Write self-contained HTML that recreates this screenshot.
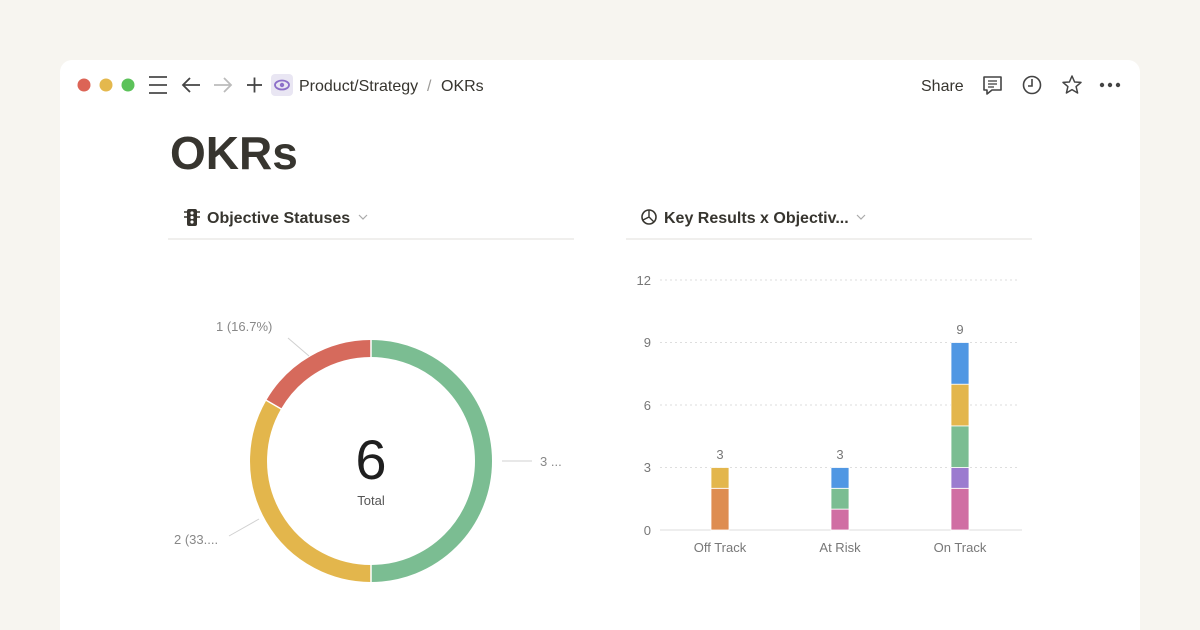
<!DOCTYPE html>
<html><head><meta charset="utf-8"><style>
html,body{margin:0;padding:0;background:#f7f5f0;}
svg{display:block;font-family:"Liberation Sans",sans-serif;}
</style></head><body>
<svg width="1200" height="630" viewBox="0 0 1200 630" xmlns="http://www.w3.org/2000/svg">
<rect x="0" y="0" width="1200" height="630" fill="#f7f5f0"/>
<rect x="60" y="60" width="1080" height="600" rx="12" fill="#ffffff"/>
<!-- traffic lights -->
<circle cx="84" cy="85" r="6.5" fill="#dc6456"/>
<circle cx="106" cy="85" r="6.5" fill="#e4b84d"/>
<circle cx="128" cy="85" r="6.5" fill="#5cc25a"/>
<!-- hamburger -->
<g stroke="#4a4a4a" stroke-width="1.8"><line x1="149" y1="77" x2="167" y2="77"/><line x1="149" y1="85" x2="167" y2="85"/><line x1="149" y1="93" x2="167" y2="93"/></g>
<!-- arrows -->
<g stroke="#444" stroke-width="1.8" fill="none"><line x1="183" y1="85" x2="200" y2="85"/><polyline points="190,78 183,85 190,92"/></g>
<g stroke="#bbb" stroke-width="1.8" fill="none"><line x1="214" y1="85" x2="231" y2="85"/><polyline points="224,78 231,85 224,92"/></g>
<g stroke="#444" stroke-width="1.8"><line x1="247" y1="85" x2="262" y2="85"/><line x1="254.5" y1="77.5" x2="254.5" y2="92.5"/></g>
<rect x="271" y="74" width="22" height="22" rx="4" fill="#e9e6f3"/>
<ellipse cx="282" cy="85" rx="7" ry="4.5" fill="none" stroke="#8c6fc9" stroke-width="1.8"/>
<circle cx="282" cy="85" r="2.2" fill="#8c6fc9"/>
<text x="299" y="91" font-size="16" fill="#37352f">Product/Strategy</text>
<text x="427" y="91" font-size="16" fill="#9b9a97">/</text>
<text x="441" y="91" font-size="16" fill="#37352f">OKRs</text>
<text x="921" y="91" font-size="16" fill="#37352f">Share</text>
<!-- comment icon -->
<path d="M984 77h17v13h-9l-5 4v-4h-3z" fill="none" stroke="#444" stroke-width="1.6" stroke-linejoin="round"/>
<g stroke="#444" stroke-width="1.3"><line x1="988" y1="81" x2="997" y2="81"/><line x1="988" y1="84" x2="997" y2="84"/><line x1="988" y1="87" x2="994" y2="87"/></g>
<circle cx="1032" cy="85" r="8.5" fill="none" stroke="#444" stroke-width="1.6"/>
<polyline points="1032,79 1032,86 1028,86" fill="none" stroke="#444" stroke-width="1.6"/>
<polygon points="1072,76 1074.6,82 1081,82.4 1076.1,86.6 1077.6,93 1072,89.6 1066.4,93 1067.9,86.6 1063,82.4 1069.4,82" fill="none" stroke="#444" stroke-width="1.5" stroke-linejoin="round"/>
<circle cx="1102" cy="85" r="2.2" fill="#444"/><circle cx="1110" cy="85" r="2.2" fill="#444"/><circle cx="1118" cy="85" r="2.2" fill="#444"/>
<!-- title -->
<text x="170" y="169" font-size="46" font-weight="bold" fill="#37352f">OKRs</text>
<!-- left header -->
<g fill="#37352f"><rect x="187" y="209" width="10" height="17" rx="2"/></g>
<g fill="#fff"><circle cx="192" cy="213" r="1.6"/><circle cx="192" cy="217.5" r="1.6"/><circle cx="192" cy="222" r="1.6"/></g>
<g stroke="#37352f" stroke-width="1.5"><line x1="184" y1="212" x2="187" y2="212"/><line x1="197" y1="212" x2="200" y2="212"/><line x1="184" y1="217" x2="187" y2="217"/><line x1="197" y1="217" x2="200" y2="217"/></g>
<text x="207" y="223" font-size="16" font-weight="bold" fill="#37352f">Objective Statuses</text>
<polyline points="359,215 363,219 367,215" fill="none" stroke="#aaa" stroke-width="1.2"/>
<line x1="168" y1="239" x2="574" y2="239" stroke="#ebeae7" stroke-width="1.5"/>
<!-- right header -->
<circle cx="649" cy="217" r="7" fill="none" stroke="#37352f" stroke-width="1.6"/>
<path d="M649 210v7l5 5M649 217l-6 3" fill="none" stroke="#37352f" stroke-width="1.4"/>
<text x="664" y="223" font-size="16" font-weight="bold" fill="#37352f">Key Results x Objectiv...</text>
<polyline points="857,215 861,219 865,215" fill="none" stroke="#aaa" stroke-width="1.2"/>
<line x1="626" y1="239" x2="1032" y2="239" stroke="#ebeae7" stroke-width="1.5"/>
<!-- donut -->
<g fill="none" stroke-width="17">
<path d="M371 348.5 A112.5 112.5 0 0 1 371 573.5" stroke="#7bbd92"/>
<path d="M371 573.5 A112.5 112.5 0 0 1 273.6 404.75" stroke="#e3b64c"/>
<path d="M273.6 404.75 A112.5 112.5 0 0 1 371 348.5" stroke="#d66a5c"/>
</g>
<g stroke="#fff" stroke-width="1.5"><line x1="371" y1="338" x2="371" y2="360"/><line x1="371" y1="562" x2="371" y2="584"/><line x1="264" y1="399" x2="283" y2="410"/></g>
<text x="371" y="479" font-size="56" text-anchor="middle" fill="#1f1f1f">6</text>
<text x="371" y="505" font-size="13" text-anchor="middle" fill="#555">Total</text>
<g stroke="#d0d0d0" stroke-width="1"><line x1="288" y1="338" x2="309" y2="356"/><line x1="502" y1="461" x2="532" y2="461"/><line x1="229" y1="536" x2="259" y2="519"/></g>
<g font-size="13" fill="#888"><text x="216" y="331">1 (16.7%)</text><text x="540" y="466">3 ...</text><text x="174" y="544">2 (33....</text></g>
<!-- bar chart -->
<g stroke="#dedede" stroke-width="1" stroke-dasharray="2,3">
<line x1="660" y1="280" x2="1020" y2="280"/><line x1="660" y1="342.5" x2="1020" y2="342.5"/><line x1="660" y1="405" x2="1020" y2="405"/><line x1="660" y1="467.5" x2="1020" y2="467.5"/>
</g>
<line x1="660" y1="530" x2="1022" y2="530" stroke="#dcdcdc" stroke-width="1"/>
<g font-size="13" fill="#777" text-anchor="end"><text x="651" y="285">12</text><text x="651" y="347">9</text><text x="651" y="410">6</text><text x="651" y="472">3</text><text x="651" y="535">0</text></g>
<g stroke="#fff" stroke-width="0.8">
<rect x="711" y="488.3" width="18" height="41.7" fill="#de8d51"/>
<rect x="711" y="467.5" width="18" height="20.8" fill="#e3b64c"/>
<rect x="831" y="509.2" width="18" height="20.8" fill="#d06ea3"/>
<rect x="831" y="488.3" width="18" height="20.8" fill="#7bbd92"/>
<rect x="831" y="467.5" width="18" height="20.8" fill="#5097e3"/>
<rect x="951" y="488.3" width="18" height="41.7" fill="#d06ea3"/>
<rect x="951" y="467.5" width="18" height="20.8" fill="#9b7bcf"/>
<rect x="951" y="425.8" width="18" height="41.7" fill="#7bbd92"/>
<rect x="951" y="384.2" width="18" height="41.7" fill="#e3b64c"/>
<rect x="951" y="342.5" width="18" height="41.7" fill="#5097e3"/>
</g>
<g font-size="13" fill="#777" text-anchor="middle"><text x="720" y="459">3</text><text x="840" y="459">3</text><text x="960" y="334">9</text>
<text x="720" y="552">Off Track</text><text x="840" y="552">At Risk</text><text x="960" y="552">On Track</text></g>
</svg>
</body></html>
